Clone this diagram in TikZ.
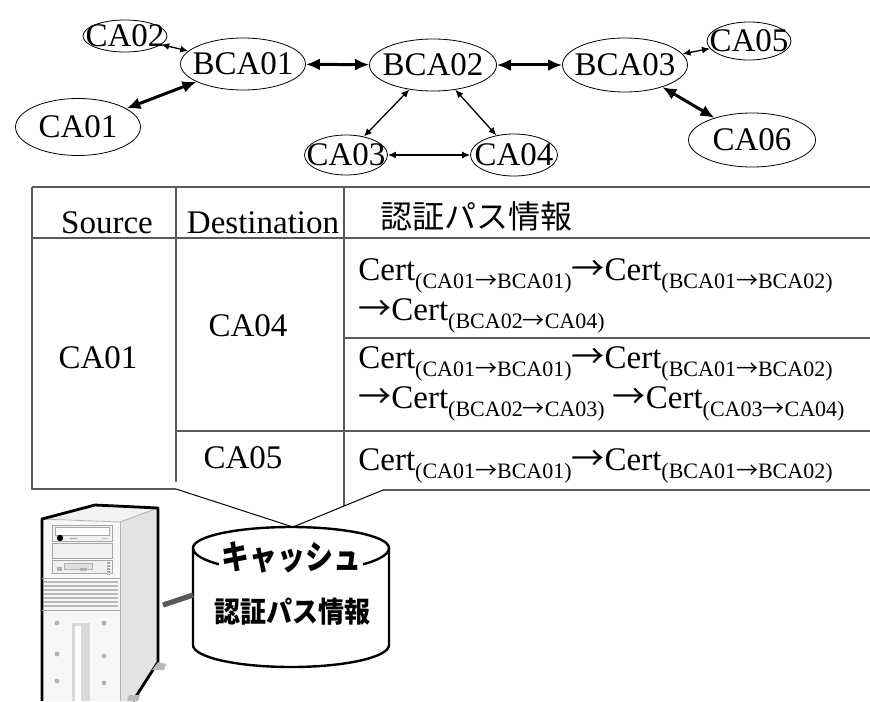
\documentclass[tikz,border=0pt]{standalone}
\usepackage{fontspec}
\setmainfont{Liberation Serif}
\newfontfamily\jp{Noto Sans CJK JP}
\usetikzlibrary{shapes.geometric,arrows.meta}

\newcommand\tabfont{\fontsize{16.5}{18}\selectfont}
\newcommand\nm[1]{\makebox[0pt]{#1}}
\newcommand\ar{{\jp →}}
% certificate with its (from -> to) index
\newcommand\cert[2]{Cert\raisebox{-4pt}{\fontsize{11}{11}\selectfont(#1\ar#2)}}

\tikzset{
  ca/.style n args={2}{ellipse,draw,inner sep=0pt,font=\tabfont,
    minimum width=#1*0.5pt,minimum height=#2*0.5pt},
  wide/.style={{Latex[length=7pt,width=6pt]}-{Latex[length=7pt,width=6pt]},line width=1.5pt},
  narrow/.style={{Latex[length=4pt,width=3.5pt]}-{Latex[length=4pt,width=3.5pt]},line width=0.65pt},
  tline/.style={draw=black!65,line width=0.75pt},
  cell/.style={anchor=base,font=\tabfont,inner sep=0pt},
  certrow/.style={anchor=base west,font=\tabfont,inner sep=0pt}
}

\begin{document}
\begin{tikzpicture}[x=0.5pt,y=-0.5pt]
\useasboundingbox (0,0) rectangle (870,701);

% certificate authorities
\node[ca={125}{52}] (bca1) at (243,64) {\nm{BCA01}};
\node[ca={127}{52}] (bca2) at (433,65) {\nm{BCA02}};
\node[ca={125}{54}] (bca3) at (625,65) {\nm{BCA03}};
\node[ca={84}{32}] (ca2) at (125,36) {\nm{CA02}};
\node[ca={125}{57}] (ca1) at (78,127) {\nm{CA01}};
\node[ca={83}{40}] (ca3) at (346,155) {\nm{CA03}};
\node[ca={87}{42}] (ca4) at (514,155) {\nm{CA04}};
\node[ca={84}{38}] (ca5) at (749,41) {\nm{CA05}};
\node[ca={127}{54}] (ca6) at (752,140) {\nm{CA06}};

\draw[wide] (ca1) -- (bca1);
\draw[wide] (bca1) -- (bca2);
\draw[wide] (bca2) -- (bca3);
\draw[wide] (bca3) -- (ca6);
\draw[narrow] (ca2) -- (bca1);
\draw[narrow] (bca2) -- (ca3);
\draw[narrow] (bca2) -- (ca4);
\draw[narrow] (ca3) -- (ca4);
\draw[narrow] (bca3) -- (ca5);

% path table
\draw[tline] (32,187) -- (870,187);
\draw[tline] (32,238) -- (870,238);
\draw[tline] (32,187) -- (32,489) -- (176,489);
\draw[tline] (176,187) -- (176,482);
\draw[tline] (344,187) -- (344,506);
\draw[tline] (344,338) -- (870,338);
\draw[tline] (176,431) -- (870,431);
\draw[tline] (383,490) -- (870,490);

\node[cell] (src) at (107,233) {Source};
\node[cell] (dst) at (263,233) {Destination};
\node[anchor=west,inner sep=0pt,font=\jp\fontsize{16}{16}\selectfont] (hdr) at (380,216) {認証パス情報};
\node[cell] (from) at (98,368) {CA01};
\node[cell] (to4) at (248,336) {CA04};
\node[cell] (to5) at (243,468) {CA05};

\node[certrow] (p1a) at (358,280) {\cert{CA01}{BCA01}\ar\cert{BCA01}{BCA02}};
\node[certrow] (p1b) at (358,320) {\ar\cert{BCA02}{CA04}};
\node[certrow] (p2a) at (358,368) {\cert{CA01}{BCA01}\ar\cert{BCA01}{BCA02}};
\node[certrow] (p2b) at (358,408) {\ar\cert{BCA02}{CA03} \ar\cert{CA03}{CA04}};
\node[certrow] (p3) at (358,470) {\cert{CA01}{BCA01}\ar\cert{BCA01}{BCA02}};

% callout to the cache
\coordinate (tip) at (293,527);
\draw[line width=0.5pt] (176,489) -- (tip) -- (383,490);

% cache cylinder
\draw[line width=1.2pt,fill=white] (193,548) -- (193,645)
  arc[start angle=180,end angle=360,x radius=49pt,y radius=11pt] -- (389,548)
  arc[start angle=0,end angle=180,x radius=49pt,y radius=10.5pt] -- cycle;
\draw[line width=1.2pt] (193,548) arc[start angle=180,end angle=360,x radius=49pt,y radius=12pt];
\node[fill=white,inner sep=1pt,font=\jp\bfseries\fontsize{14}{14}\selectfont] (cache) at (291,557) {\scalebox{1}[1.2]{キャッシュ}};
\node[font=\jp\bfseries\fontsize{13}{13}\selectfont] (info) at (292,612) {\scalebox{1}[1.1]{認証パス情報}};

% server tower
\fill[gray!10] (42,519) -- (95,505) -- (158,508) -- (120,522) -- cycle;
\fill[gray!22] (120,522) -- (158,508) -- (158,662) -- (133,701) -- (120,701) -- cycle;
\fill[gray!6] (42,519) -- (120,522) -- (120,701) -- (42,701) -- cycle;
\draw[gray!60] (42,519) -- (120,522) -- (158,508);
\draw[gray!60] (120,522) -- (120,701);
\draw[line width=1.4pt,line join=round] (42,701) -- (42,519) -- (95,505) -- (158,508) -- (158,662) -- (133,701);
\fill[gray!55] (158,662) -- (166,664) -- (164,670) -- (152,670) -- cycle;
\fill[gray!55] (129,695) -- (140,695) -- (138,701) -- (127,701) -- cycle;
% drive bays
\draw[gray!70,fill=gray!12] (52,525) rectangle (112,541);
\draw[gray!70,fill=white] (55,527) rectangle (109,535);
\fill (60,538) circle[radius=1.6pt];
\draw[gray!70] (70,538) -- (77,538);
\draw[gray!50] (102,538) -- (108,538);
\draw[gray!70,fill=gray!12] (52,543) rectangle (112,558);
\draw[gray!70,fill=gray!12] (52,560) rectangle (112,573);
\draw[gray!60,fill=gray!25] (64,563) rectangle (92,569);
\fill[gray!60] (57,567) rectangle (62,571);
\fill[gray!60] (80,568) rectangle (87,571);
\fill[gray!70] (107,562) rectangle (110,575);
\foreach \y in {564,567,570,573} \draw[white,line width=0.3pt] (107,\y) -- (110,\y);
% grille
\draw[gray!70] (42,578) -- (120,578);
\foreach \y in {582,586,...,606} \draw[gray!55,line width=0.6pt] (44,\y) -- (118,\y);
\draw[gray!70] (42,610) -- (120,610);
% door and screws
\fill[gray!30] (72,623) rectangle (90,701);
\fill[white] (75,626) rectangle (81,701);
\foreach \x/\y in {57/623,104/623,57/654,104/656,57/681,104/683}
  \fill[gray!60] (\x,\y) circle[radius=1.2pt];

% cable to the cache
\coordinate (port) at (163,605);
\coordinate (disk) at (193,595);
\draw[gray!70!black,line width=2.6pt] (port) -- (disk);
\end{tikzpicture}
\end{document}
